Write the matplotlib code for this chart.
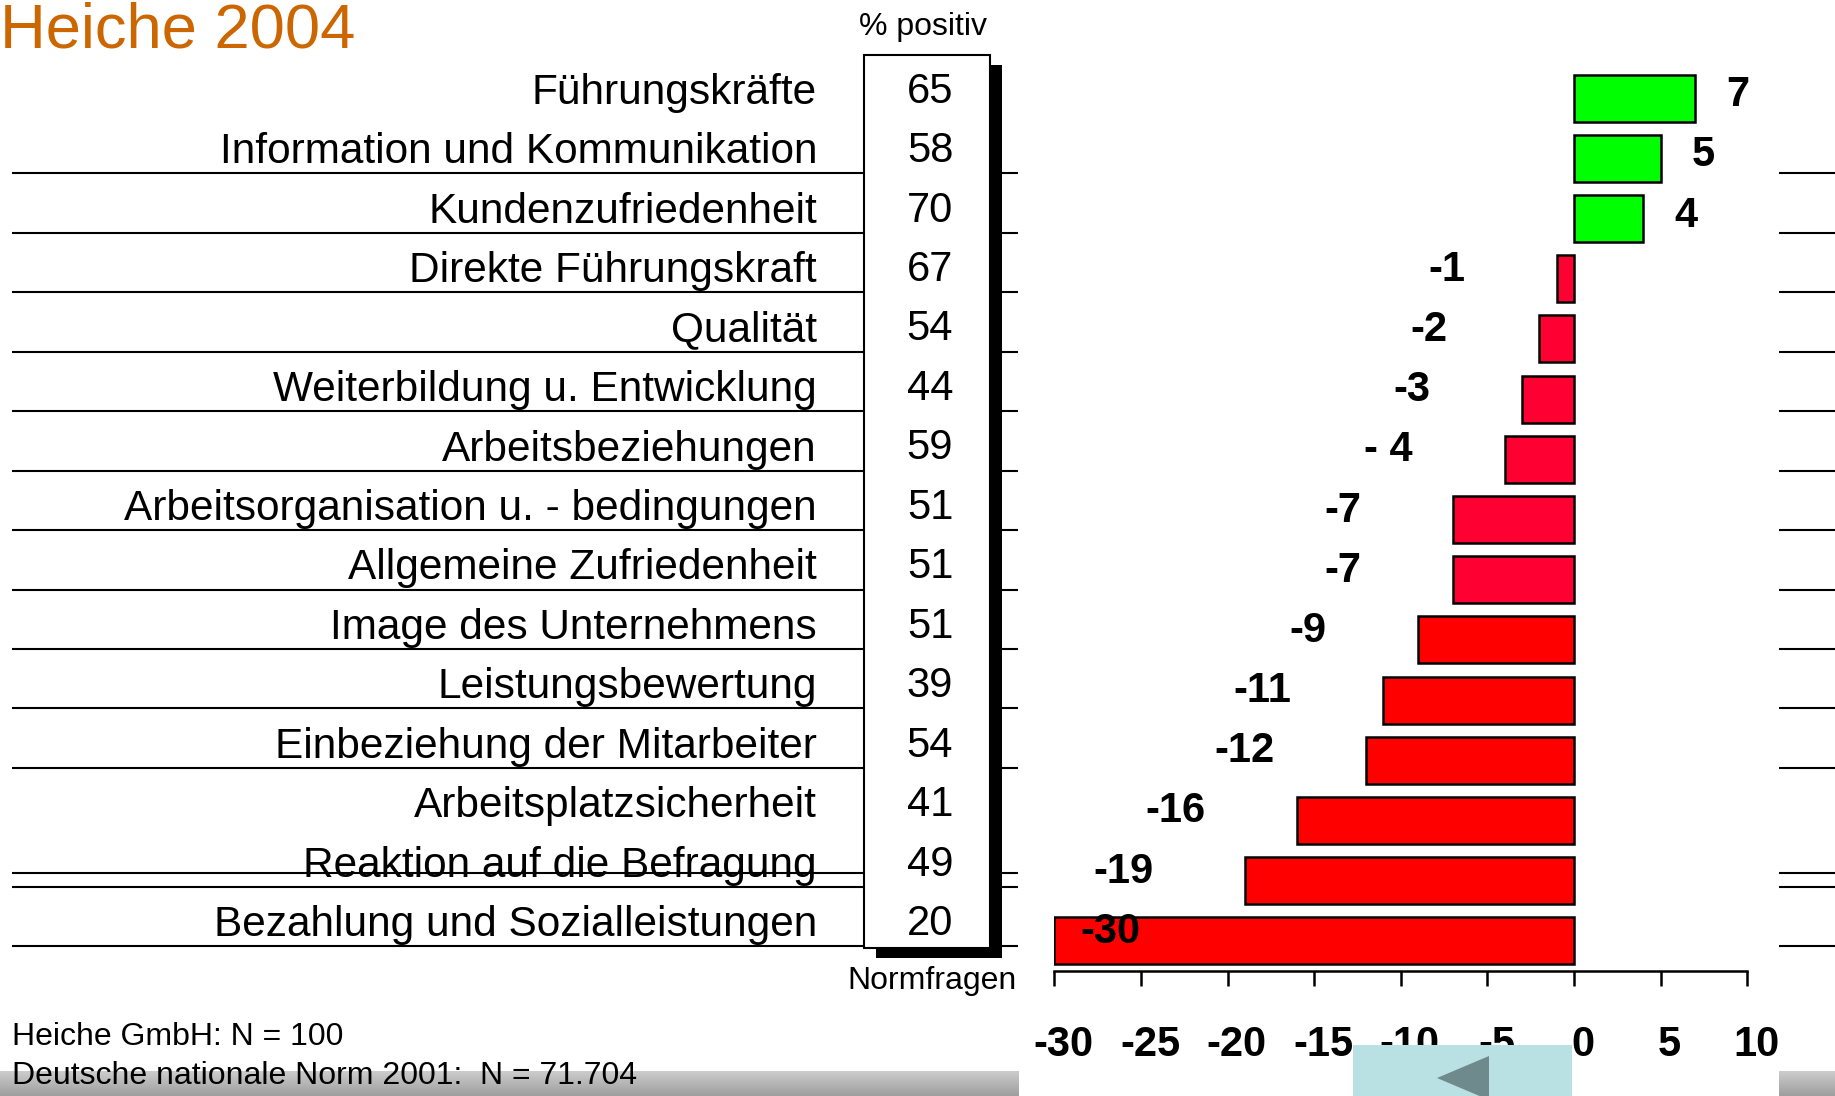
import numpy as np
import matplotlib.pyplot as plt
import matplotlib.transforms as mtransforms
from matplotlib.patches import Rectangle, Polygon

plt.rcParams['font.family'] = ['Liberation Sans', 'DejaVu Sans']

categories = ["Führungskräfte", "Information und Kommunikation", "Kundenzufriedenheit",
              "Direkte Führungskraft", "Qualität", "Weiterbildung u. Entwicklung",
              "Arbeitsbeziehungen", "Arbeitsorganisation u. - bedingungen",
              "Allgemeine Zufriedenheit", "Image des Unternehmens", "Leistungsbewertung",
              "Einbeziehung der Mitarbeiter", "Arbeitsplatzsicherheit",
              "Reaktion auf die Befragung", "Bezahlung und Sozialleistungen"]
pct_positiv = [65, 58, 70, 67, 54, 44, 59, 51, 51, 51, 39, 54, 41, 49, 20]
diff = [7, 5, 4, -1, -2, -3, -4, -7, -7, -9, -11, -12, -16, -19, -30]
diff_labels = ["7", "5", "4", "-1", "-2", "-3", "- 4", "-7", "-7", "-9",
               "-11", "-12", "-16", "-19", "-30"]
x_ticks = [-30, -25, -20, -15, -10, -5, 0, 5, 10]
tick_labels = ["-30", "-25", "-20", "-15", "-10", "-5", "0", "5", "10"]

# separator lines sit below these rows
sep_rows = [1, 2, 3, 4, 5, 6, 7, 8, 9, 10, 11, 13, 14]
extra_sep = 13.2 - 0.44

W, H = 1835, 1096
fig = plt.figure(figsize=(W / 100, H / 100), dpi=100)

# background layer: x in pixels, y in table rows
r0, dy = 87.8, 59.45
def ry(py):
    return (py - r0) / dy

bg = fig.add_axes([0, 0, 1, 1])
bg.set_xlim(0, W)
bg.set_ylim(ry(H), ry(0))
bg.axis('off')

bg.text(0, ry(47), "Heiche 2004", color='#CC6600', fontsize=45.5, ha='left', va='baseline')
bg.text(923, ry(35), "% positiv", fontsize=23, ha='center', va='baseline')
bg.text(932, ry(989), "Normfragen", fontsize=23, ha='center', va='baseline')

# table box with shadow
bg.add_patch(Rectangle((876, ry(65)), 126, (948 - 55) / dy, facecolor='black', zorder=1))
bg.add_patch(Rectangle((864, ry(55)), 126, (948 - 55) / dy, facecolor='white',
                       edgecolor='black', linewidth=1.5, zorder=2))

seps = [r + 0.44 for r in sep_rows] + [extra_sep + 0.44]
bg.hlines(seps, 12, 864, color='black', linewidth=1.5)
bg.hlines(seps, 1002, 1018, color='black', linewidth=1.5)
bg.hlines(seps, 1779, 1835, color='black', linewidth=1.5)

for i, (cat, p) in enumerate(zip(categories, pct_positiv)):
    bg.text(817, i + 0.27, cat, fontsize=30.5, ha='right', va='baseline', zorder=3)
    bg.text(930, i + 0.25, str(p), fontsize=30, ha='center', va='baseline', zorder=3)

# bar chart
def px_axes(x0, y0, x1, y1):
    return fig.add_axes([x0 / W, 1 - y1 / H, (x1 - x0) / W, (y1 - y0) / H])

ax = px_axes(1054.4, 38, 1747.2, 971)
ax.set_xlim(-30, 10)
ax.set_ylim(14.5, -1)
ax.patch.set_visible(False)

colors = []
for v in diff:
    if v > 0:
        colors.append('#00FF00')
    elif v >= -7:
        colors.append('#FF0033')
    else:
        colors.append('#FF0000')

ax.barh(range(len(diff)), diff, height=0.78, color=colors, edgecolor='black', linewidth=1.8)

for i, (v, lab) in enumerate(zip(diff, diff_labels)):
    if v > 0:
        ax.text(v + 1.8, i - 0.05, lab, fontsize=30, fontweight='bold', ha='left', va='center')
    elif v - 5 < -30:
        ax.text(v + 1.5, i - 0.15, lab, fontsize=30, fontweight='bold', ha='left', va='center')
    else:
        ax.text(v - 5.3, i - 0.15, lab, fontsize=30, fontweight='bold', ha='right', va='center')

for s in ['top', 'left', 'right']:
    ax.spines[s].set_visible(False)
ax.spines['bottom'].set_linewidth(1.8)
ax.set_yticks([])
ax.set_xticks(x_ticks)
ax.set_xticklabels(tick_labels, fontsize=30, fontweight='bold')
ax.tick_params(axis='x', direction='out', length=11, width=1.8, pad=28)
shift = mtransforms.ScaledTranslation(9 / 100, 0, fig.dpi_scale_trans)
for lbl in ax.get_xticklabels():
    lbl.set_transform(lbl.get_transform() + shift)

# overlay: footer band, nav button, notes
ov = fig.add_axes([0, 0, 1, 1])
ov.set_xlim(0, W)
ov.set_ylim(H, 0)
ov.axis('off')
ov.patch.set_visible(False)

grad = np.linspace(0.80, 0.62, 50).reshape(-1, 1)
ov.imshow(grad, cmap='gray', vmin=0, vmax=1, aspect='auto', extent=(0, 1018, H, 1071), zorder=1)
ov.imshow(grad, cmap='gray', vmin=0, vmax=1, aspect='auto', extent=(1779, W, H, 1071), zorder=1)
ov.add_patch(Rectangle((1353, 1045), 219, 51, facecolor='#B9E0E3', edgecolor='none', zorder=2))
ov.add_patch(Polygon([(1437, 1078), (1489, 1056), (1489, 1100)], closed=True,
                     facecolor='#6F8A8C', edgecolor='none', zorder=3))
ov.set_xlim(0, W)
ov.set_ylim(H, 0)

ov.text(12, 1045, "Heiche GmbH: N = 100", fontsize=23, ha='left', va='baseline', zorder=4)
ov.text(12, 1084, "Deutsche nationale Norm 2001:  N = 71.704", fontsize=23,
        ha='left', va='baseline', zorder=4)

fig.savefig('out.png', dpi=100)
